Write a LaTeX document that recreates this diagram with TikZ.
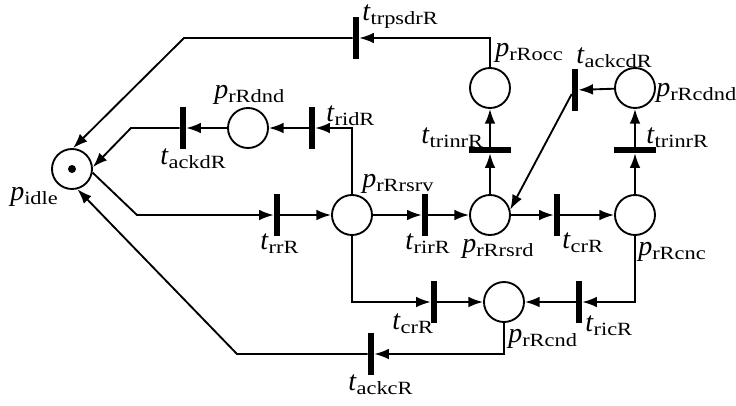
\documentclass[tikz,border=0pt]{standalone}
\usepackage{fontspec}
\setmainfont{Liberation Serif}
\usetikzlibrary{arrows.meta}
\newcommand\lbl[2]{\fontsize{21}{23}\selectfont\textit{#1}\raisebox{-3pt}{\scalebox{1.2}[1]{\fontsize{14}{16}\selectfont #2}}}
\begin{document}
\begin{tikzpicture}[x=0.75pt,y=-0.75pt,
 place/.style={circle,draw,line width=1.4pt,minimum size=30pt,inner sep=0},
 vbar/.style={fill=black,minimum width=4.5pt,minimum height=31pt,inner sep=0},
 hbar/.style={fill=black,minimum width=31pt,minimum height=4.5pt,inner sep=0},
 arc/.style={line width=1.4pt,-{Latex[length=11pt,width=8pt]}},
 lab/.style={anchor=base west,inner sep=0}]
\useasboundingbox (0,0) rectangle (736,405);
% places
\node[place] (idle) at (72,169) {};
\fill (idle.center) circle (3pt);
\node[place] (rdnd) at (248,128) {};
\node[place] (rsrv) at (352,215) {};
\node[place] (rsrd) at (490,215) {};
\node[place] (cnc) at (635,215) {};
\node[place] (cnd) at (504,302) {};
\node[place] (occ) at (490,88) {};
\node[place] (cdnd) at (635,88) {};
% transitions
\node[vbar] (trpsdr) at (356,38) {};
\node[vbar] (ridR) at (312,128) {};
\node[vbar] (ackdR) at (183,128) {};
\node[vbar] (rrR) at (277,215) {};
\node[vbar] (rirR) at (425,215) {};
\node[vbar] (crRa) at (557,215) {};
\node[vbar] (crRb) at (434,302) {};
\node[vbar] (ricR) at (579,302) {};
\node[vbar] (ackcR) at (371,354) {};
\node[hbar] (trinra) at (490,150) {};
\node[hbar] (trinrb) at (635,150) {};
\node[vbar] (ackcd) at (575,90) {};
% arcs
\draw[arc] (idle.-10) -- (137,215) -- (rrR);
\draw[arc] (rrR) -- (rsrv);
\draw[arc] (rsrv) |- (ridR);
\draw[arc] (ridR) -- (rdnd);
\draw[arc] (rdnd) -- (ackdR);
\draw[arc] (ackdR) -- (131,128) -- (idle.5);
\draw[arc] (occ) |- (trpsdr);
\draw[arc] (trpsdr) -- (184,38) -- (idle.87);
\draw[arc] (rsrv) -- (rirR);
\draw[arc] (rirR) -- (rsrd);
\draw[arc] (rsrd) -- (crRa);
\draw[arc] (crRa) -- (cnc);
\draw[arc] (rsrd) -- (trinra);
\draw[arc] (trinra) -- (occ);
\draw[arc] (cnc) -- (trinrb);
\draw[arc] (trinrb) -- (cdnd);
\draw[arc] (cdnd) -- (ackcd);
\draw[arc] ([yshift=-3pt]ackcd.west) -- (rsrd.15);
\draw[arc] (rsrv) |- (crRb);
\draw[arc] (crRb) -- (cnd);
\draw[arc] (cnc) |- (ricR);
\draw[arc] (ricR) -- (cnd);
\draw[arc] (cnd) |- (ackcR);
\draw[arc] (ackcR) -- (237,354) -- (idle.-75);
% labels
\node[lab] (Lidle) at (10,200) {\lbl{p}{idle}};
\node[lab] (Lrdnd) at (214,98) {\lbl{p}{rRdnd}};
\node[lab] (Lrsrv) at (362,187) {\lbl{p}{rRrsrv}};
\node[lab] (Lrsrd) at (462,252) {\lbl{p}{rRrsrd}};
\node[lab] (Lcnc) at (638,255) {\lbl{p}{rRcnc}};
\node[lab] (Lcnd) at (508,342) {\lbl{p}{rRcnd}};
\node[lab] (Locc) at (495,56) {\lbl{p}{rRocc}};
\node[lab] (Lcdnd) at (656,96) {\lbl{p}{rRcdnd}};
\node[lab] (Ltrpsdr) at (362,20) {\lbl{t}{trpsdrR}};
\node[lab] (LridR) at (326,121) {\lbl{t}{ridR}};
\node[lab] (LackdR) at (160,164) {\lbl{t}{ackdR}};
\node[lab] (LrrR) at (260,249) {\lbl{t}{rrR}};
\node[lab] (LrirR) at (405,249) {\lbl{t}{rirR}};
\node[lab] (LcrRa) at (562,248) {\lbl{t}{crR}};
\node[lab] (LcrRb) at (392,329) {\lbl{t}{crR}};
\node[lab] (LricR) at (585,331) {\lbl{t}{ricR}};
\node[lab] (LackcR) at (348,390) {\lbl{t}{ackcR}};
\node[lab] (Lackcd) at (576,63) {\lbl{t}{ackcdR}};
\node[lab] (Ltrinra) at (421,143) {\lbl{t}{trinrR}};
\node[lab] (Ltrinrb) at (646,143) {\lbl{t}{trinrR}};
\end{tikzpicture}
\end{document}
